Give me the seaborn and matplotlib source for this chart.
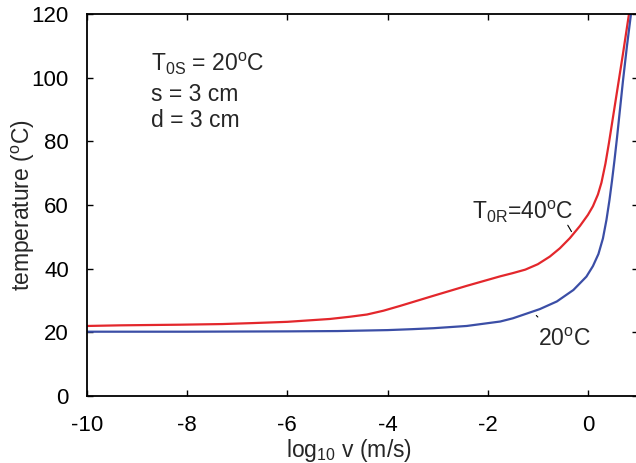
import matplotlib
matplotlib.use("Agg")
import matplotlib.pyplot as plt
import seaborn as sns
import pandas as pd

# Surface temperature vs. sliding velocity for two initial temperatures
log_v_red = [-10, -9.33, -8.14, -7.3, -6.7, -6.0, -5.15, -4.75, -4.41, -4.08, -3.75,
             -3.08, -2.42, -1.75, -1.5, -1.25, -1.0, -0.76, -0.56, -0.36, -0.16,
             0.0, 0.1, 0.2, 0.27, 0.35, 0.42, 0.5, 0.6, 0.7, 0.82]
temp_red = [22.0, 22.2, 22.4, 22.6, 22.9, 23.3, 24.2, 24.9, 25.6, 26.8, 28.3,
            31.5, 34.6, 37.6, 38.6, 39.7, 41.4, 43.8, 46.4, 49.6, 53.4,
            56.9, 59.6, 63.3, 67.0, 73.0, 79.5, 87.5, 97.5, 107.5, 120.0]

log_v_blue = [-10, -8, -6, -5, -4, -3.5, -3.08, -2.42, -1.75, -1.5, -1.22, -0.96,
              -0.62, -0.29, -0.03, 0.1, 0.21, 0.3, 0.37, 0.43, 0.48, 0.53,
              0.58, 0.64, 0.7, 0.78, 0.86]
temp_blue = [20.2, 20.2, 20.3, 20.4, 20.7, 21.0, 21.3, 22.0, 23.4, 24.4, 25.9, 27.3,
             29.7, 33.3, 37.5, 40.8, 44.6, 49.5, 55.3, 61.5, 67.5, 74.0,
             81.0, 90.0, 99.0, 110.0, 120.0]

series_names = ["40", "20"]
colors = {"40": "#e3272c", "20": "#3b4ea6"}

x_ticks = [-10, -8, -6, -4, -2, 0]
y_ticks = [0, 20, 40, 60, 80, 100, 120]

df = pd.concat([
    pd.DataFrame({"logv": log_v_red, "T": temp_red, "T0R": series_names[0]}),
    pd.DataFrame({"logv": log_v_blue, "T": temp_blue, "T0R": series_names[1]}),
])

sns.set_theme(style="ticks")
plt.rcParams["font.family"] = ["Liberation Sans", "DejaVu Sans"]
plt.rcParams["mathtext.fontset"] = "custom"
plt.rcParams["mathtext.rm"] = "Liberation Sans"
plt.rcParams["mathtext.it"] = "Liberation Sans:italic"
plt.rcParams["mathtext.bf"] = "Liberation Sans:bold"
plt.rcParams["axes.unicode_minus"] = False

fig = plt.figure(figsize=(6.36, 4.63), dpi=100)
ax = fig.add_axes([87 / 636, 1 - 396 / 463, (638 - 87) / 636, (396 - 14) / 463])

sns.lineplot(data=df, x="logv", y="T", hue="T0R", palette=colors, sort=False,
             estimator=None, lw=1.6, legend=False, ax=ax)

ax.set_xlim(-10, 1.0)
ax.set_ylim(0, 120)
ax.set_xticks(x_ticks)
ax.set_yticks(y_ticks)
ax.tick_params(direction="in", length=4, width=1, labelsize=16,
               top=True, right=True, colors="black")
ax.tick_params(axis="x", pad=14)
ax.tick_params(axis="y", pad=13)
for s in ax.spines.values():
    s.set_linewidth(1.3)
    s.set_color("black")

ax.set_xlabel(r"log$_{\rm 10}$ v (m/s)", fontsize=16.5)
ax.set_ylabel(r"temperature ($^{\rm o}$C)", fontsize=16.5)
ax.xaxis.set_label_coords(0.475, -0.108)
ax.yaxis.set_label_coords(-0.091, 0.5)

# parameter block
ax.text(-8.72, 102.1, r"T$_{\rm 0S}$ = 20$^{\rm o}$C", fontsize=16.5, va="baseline")
ax.text(-8.72, 92.6, "s = 3 cm", fontsize=16.5, va="baseline")
ax.text(-8.72, 84.4, "d = 3 cm", fontsize=16.5, va="baseline")

# curve labels with leader lines
ax.text(-2.32, 55.7, r"T$_{\rm 0R}$=40$^{\rm o}$C", fontsize=16.5, va="baseline")
ax.annotate("", xy=(-0.3, 50.9), xytext=(-0.43, 54.4),
            arrowprops=dict(arrowstyle="-", lw=0.8, color="black"))
ax.text(-1.0, 15.7, r"20$^{\rm o}$C", fontsize=16.5, va="baseline")
ax.annotate("", xy=(-0.96, 24.2), xytext=(-1.07, 25.9),
            arrowprops=dict(arrowstyle="-", lw=0.8, color="black"))

fig.savefig("out.png", dpi=100)
